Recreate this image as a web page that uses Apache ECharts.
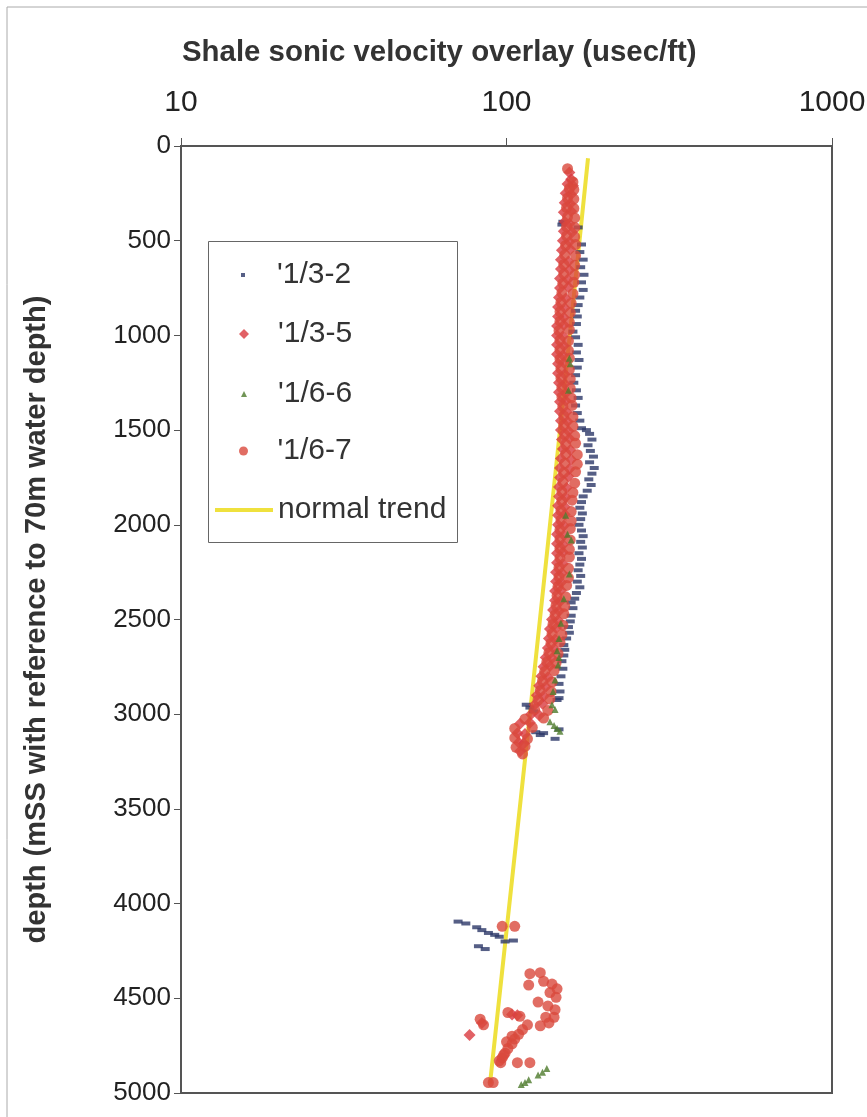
<!DOCTYPE html>
<html>
<head>
<meta charset="utf-8">
<script src="https://cdn.jsdelivr.net/npm/echarts@6/dist/echarts.min.js"></script>
<style>html,body{margin:0;padding:0;background:#fff;overflow:hidden;}#chart{width:867px;height:1117px;}</style>
</head>
<body>
<div id="chart"></div>
<script>
// ---- data: [sonic value (usec/ft), depth (mSS)] ----
const xTicks = [10, 100, 1000];
const seriesNames = ["'1/3-2", "'1/3-5", "'1/6-6", "'1/6-7", "normal trend"];

const normalTrend = [[178, 65], [146, 1500], [118, 3000], [89, 4950]];

const well_1_3_2 = [
 [149,400],[148,415],[166,430],[170,520],[168,560],[172,600],[169,640],[173,680],[170,720],[172,760],
 [168,800],[166,840],[163,870],[165,900],[164,940],[160,980],[163,1010],[166,1050],[164,1090],[167,1130],
 [165,1170],[163,1210],[161,1250],[164,1290],[166,1330],[163,1370],[165,1410],[168,1450],[170,1490],
 [176,1500],[180,1520],[183,1550],[178,1580],[181,1610],[185,1640],[180,1670],[186,1700],[183,1730],
 [179,1760],[182,1790],[177,1820],[172,1850],[170,1880],[168,1910],[171,1940],[169,1970],[167,2000],
 [170,2030],[172,2060],[169,2090],[171,2120],[167,2150],[170,2180],[168,2210],[166,2240],[169,2270],
 [165,2300],[168,2330],[164,2360],[162,2390],[158,2410],[160,2440],[158,2480],[157,2510],[155,2540],
 [156,2570],[153,2600],[150,2635],[151,2660],[150,2690],[148,2720],[149,2760],[147,2800],[145,2840],
 [146,2880],[145,2915],[143,2925],[115,2950],[118,2965],[121,2985],[123,3095],[127,3110],[130,3100],
 [141,3130],[145,3080],
 [71,4095],[75,4105],[81,4125],[84,4140],[88,4155],[92,4165],[95,4175],[82,4225],[86,4240],[99,4200],[105,4195]
];

const well_1_3_5 = [
 [156,140],[158,175],[154,200],[160,210],[152,250],[158,255],[151,300],[157,305],[150,350],[158,345],
 [151,400],[156,410],[150,450],[159,455],[149,500],[156,505],[148,550],[157,545],[147,600],[155,610],
 [147,650],[156,655],[146,700],[154,705],[146,750],[155,745],[145,800],[152,805],[144,850],[151,855],
 [144,900],[150,905],[143,950],[150,945],[143,1000],[149,1005],[143,1050],[150,1055],[143,1100],[149,1105],
 [144,1150],[150,1145],[144,1200],[151,1205],[145,1250],[151,1255],[145,1300],[152,1305],[146,1350],[152,1345],
 [146,1400],[153,1405],[147,1450],[154,1455],[147,1500],[155,1505],[148,1550],[156,1545],[149,1600],[157,1605],
 [147,1650],[158,1655],[146,1700],[156,1705],[146,1750],[155,1745],[145,1800],[153,1805],[145,1850],[152,1855],
 [144,1900],[151,1905],[144,1950],[151,1945],[144,2000],[150,2005],[143,2050],[150,2055],[143,2100],[149,2105],
 [143,2150],[149,2145],[143,2200],[149,2205],[142,2250],[148,2255],[142,2300],[147,2305],[141,2350],[147,2345],
 [141,2400],[146,2405],[139,2450],[145,2455],[138,2500],[144,2505],[136,2550],[142,2545],[135,2600],[141,2605],
 [134,2650],[140,2655],[132,2700],[138,2705],[130,2750],[136,2745],[128,2800],[134,2805],[126,2850],[132,2855],
 [124,2900],[130,2905],[122,2950],[129,2945],[119,3000],[126,3005],[110,3050],[118,3045],[108,3100],[114,3105],
 [109,3150],[113,3155],[110,3195],
 [77,4694],[84,4630],[104,4585],[108,4590]
];

const well_1_6_6 = [
 [156,1120],[157,1150],[155,1290],[152,1950],[154,2050],[158,2080],[156,2260],[150,2390],[147,2520],[145,2600],
 [143,2665],[145,2700],[144,2740],[141,2820],[139,2880],[138,2950],[141,2975],[136,3040],[140,3060],[143,3075],[146,3090],
 [111,4955],[114,4945],[117,4930],[125,4905],[129,4890],[133,4870]
];

const well_1_6_7 = [
 [154,120],[160,190],[156,225],[161,230],[154,275],[161,280],[153,325],[161,330],[154,375],[162,380],
 [153,425],[162,430],[153,475],[162,480],[152,525],[163,520],[151,575],[163,580],[150,625],[162,630],
 [150,675],[162,680],[149,725],[161,720],[148,775],[160,780],[147,825],[158,830],[146,875],[157,880],
 [146,925],[156,930],[145,975],[156,970],[146,1025],[155,1030],[146,1075],[155,1080],[146,1125],[156,1120],
 [147,1175],[156,1180],[147,1225],[157,1230],[148,1275],[157,1280],[148,1325],[158,1330],[149,1375],[159,1370],
 [150,1425],[160,1430],[150,1475],[160,1480],[151,1525],[162,1530],[152,1575],[163,1570],[152,1625],[165,1630],
 [151,1675],[165,1680],[150,1725],[163,1720],[149,1775],[162,1780],[148,1825],[160,1830],[148,1875],[159,1870],
 [147,1925],[158,1930],[147,1975],[158,1980],[146,2025],[157,2020],[146,2075],[157,2080],[146,2125],[156,2130],
 [146,2175],[156,2170],[145,2225],[155,2230],[145,2275],[155,2280],[144,2325],[153,2320],[143,2375],[152,2380],
 [142,2425],[151,2430],[141,2475],[150,2470],[139,2525],[149,2530],[138,2575],[148,2580],[137,2625],[146,2620],
 [135,2675],[144,2680],[133,2725],[142,2730],[131,2775],[140,2770],[129,2825],[138,2830],[127,2875],[137,2880],
 [125,2925],[136,2920],[122,2975],[134,2980],[114,3025],[130,3020],[106,3075],[120,3070],[106,3125],[116,3130],
 [107,3175],[114,3170],[112,3210],
 [97,4120],[106,4120],
 [118,4370],[127,4365],[117,4430],[130,4410],[138,4425],[143,4450],[136,4470],[142,4495],
 [125,4520],[134,4540],[141,4560],[132,4600],[140,4600],[135,4630],[127,4645],
 [116,4640],[112,4665],[109,4690],[106,4715],[104,4740],[101,4765],[99,4790],[97,4815],[96,4840],[104,4700],[100,4730],
 [101,4575],[110,4595],[83,4610],[85,4640],[108,4840],[118,4840],[95,4830],[98,4800],[88,4945],[91,4945]
];

const FONT = 'Liberation Sans, Arial, sans-serif';
const chart = echarts.init(document.getElementById('chart'), null, {renderer: 'canvas'});

function legendAt(name, left, top, h, icon) {
  return {
    data: [{name: name, icon: icon}],
    left: left, top: top, orient: 'vertical', padding: 0,
    itemWidth: 58, itemHeight: h, symbolKeepAspect: true,
    selectedMode: false, z: 10,
    textStyle: {fontSize: 30, color: '#333', fontFamily: FONT}
  };
}

const option = {
  animation: false,
  backgroundColor: '#fff',
  title: {
    text: 'Shale sonic velocity overlay (usec/ft)',
    left: 182, top: 38, padding: 0,
    textStyle: {fontSize: 29.4, fontWeight: 'bold', color: '#333', fontFamily: FONT}
  },
  graphic: [
    {type: 'line', shape: {x1: 7, y1: 7, x2: 867, y2: 7}, style: {stroke: '#aaa', lineWidth: 1}},
    {type: 'line', shape: {x1: 7, y1: 7, x2: 7, y2: 1117}, style: {stroke: '#aaa', lineWidth: 1}},
    {type: 'rect', shape: {x: 208.5, y: 241.5, width: 249, height: 301}, style: {fill: '#fff', stroke: '#666', lineWidth: 1}, z: 3}
  ],
  legend: [
    legendAt(seriesNames[0], 241, 260, 4, 'path://M0,0L1,0L1,1L0,1Z'),
    legendAt(seriesNames[1], 239, 319, 10, 'path://M1,0L2,1L1,2L0,1Z'),
    legendAt(seriesNames[2], 241, 379, 6, 'path://M1,0L2,2L0,2Z'),
    legendAt(seriesNames[3], 239, 436, 9, 'circle'),
    legendAt(seriesNames[4], 215, 495, 4, 'rect')
  ],
  grid: {left: 181, top: 146, width: 651, height: 947, show: true, borderColor: '#555', borderWidth: 2,
         containLabel: false, outerBoundsMode: 'none'},
  xAxis: {
    type: 'log', logBase: 10, min: xTicks[0], max: xTicks[xTicks.length - 1], position: 'top',
    axisLine: {lineStyle: {color: '#555', width: 2}},
    axisTick: {inside: false, length: 8, lineStyle: {color: '#555', width: 1}},
    minorTick: {show: false},
    splitLine: {show: false},
    axisLabel: {fontSize: 30, color: '#222', margin: 28, fontFamily: FONT, formatter: function (v) { return String(v); }}
  },
  yAxis: {
    type: 'value', inverse: true, min: 0, max: 5000, interval: 500,
    name: 'depth (mSS with reference to 70m water depth)',
    nameLocation: 'middle', nameGap: 130,
    nameTextStyle: {fontSize: 29, fontWeight: 'bold', color: '#333', fontFamily: FONT},
    axisLine: {lineStyle: {color: '#555', width: 2}},
    axisTick: {inside: false, length: 7, lineStyle: {color: '#555', width: 1}},
    splitLine: {show: false},
    axisLabel: {fontSize: 26, color: '#222', margin: 10, fontFamily: FONT, formatter: function (v) { return String(v); }}
  },
  series: [
    {name: seriesNames[4], type: 'line', data: normalTrend, symbol: 'none', z: 1,
     lineStyle: {color: '#EFE13E', width: 4}, itemStyle: {color: '#EFE13E'}},
    {name: seriesNames[0], type: 'scatter', data: well_1_3_2, symbol: 'rect', symbolSize: [9, 4], z: 2,
     itemStyle: {color: '#2C3768'}},
    {name: seriesNames[1], type: 'scatter', data: well_1_3_5, symbol: 'diamond', symbolSize: 12, z: 2,
     itemStyle: {color: '#D93A3F'}},
    {name: seriesNames[3], type: 'scatter', data: well_1_6_7, symbol: 'circle', symbolSize: 11, z: 2,
     itemStyle: {color: '#D9483C'}},
    {name: seriesNames[2], type: 'scatter', data: well_1_6_6, symbol: 'triangle', symbolSize: 7, z: 2,
     itemStyle: {color: '#4E7B2C'}}
  ]
};
chart.setOption(option);
</script>
</body>
</html>
